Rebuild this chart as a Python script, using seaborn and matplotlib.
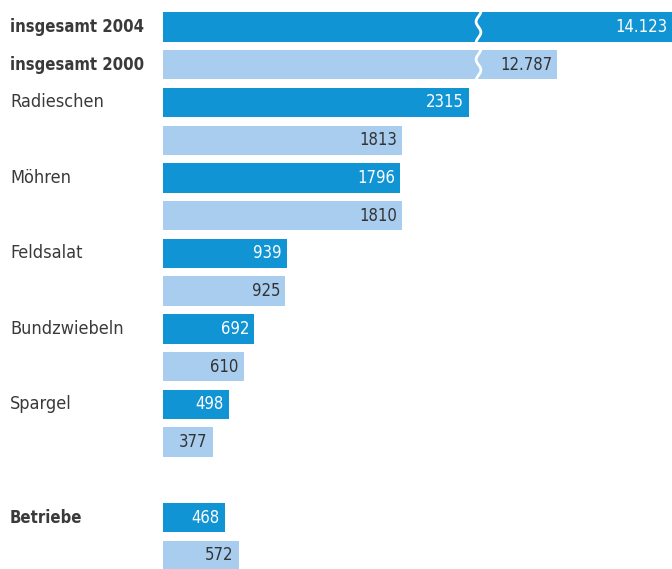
import numpy as np
import pandas as pd
import seaborn as sns
import matplotlib.pyplot as plt

# rows from top to bottom (2004 bar first, then 2000 bar)
labels = ["insgesamt 2004", "insgesamt 2000", "Radieschen", "", "Möhren", "",
          "Feldsalat", "", "Bundzwiebeln", "", "Spargel", "", "Betriebe", ""]
values = [14123, 12787, 2315, 1813, 1796, 1810, 939, 925, 692, 610, 498, 377, 468, 572]
years = ["2004", "2000"] * 7
value_text = ["14.123", "12.787", "2315", "1813", "1796", "1810", "939", "925",
              "692", "610", "498", "377", "468", "572"]
bold_labels = ["insgesamt 2004", "insgesamt 2000", "Betriebe"]

# totals are drawn on a broken axis: this much is cut out of them
cut = 9800
break_at = 2390

pos = list(range(12)) + [13, 14]
shown = [v - cut if v > 10000 else v for v in values]
df = pd.DataFrame({"pos": pos, "shown": shown, "Jahr": years})

dark = "#1094d4"
light = "#a8cdee"

sns.set_theme(style="white")
plt.rcParams["font.family"] = ["DejaVu Sans"]
plt.rcParams["font.stretch"] = "condensed"

fig = plt.figure(figsize=(6.72, 5.69), dpi=100)
ax = fig.add_axes([163 / 672, 0, 1 - 163 / 672, 1])

sns.barplot(data=df, x="shown", y="pos", hue="Jahr", orient="y", native_scale=True,
            palette={"2004": dark, "2000": light}, dodge=False, width=0.78,
            legend=False, ax=ax, saturation=1, linewidth=0)

xmax = (672 - 163) / 0.132
ax.set_xlim(0, xmax)
ax.set_ylim(14.36, -0.715)
ax.axis("off")

# value labels inside bar ends
for p, s, yr, t in zip(pos, shown, years, value_text):
    end = min(s, xmax)
    ax.text(end - 38, p, t, ha="right", va="center", fontsize=12,
            fontstretch="condensed",
            color="white" if yr == "2004" else "#333333")

# category labels on the left
for p, lab in zip(pos, labels):
    if lab:
        isbold = lab in bold_labels
        fig.text(10 / 672, ax.transData.transform((0, p))[1] / fig.bbox.height, lab,
                 ha="left", va="center", fontsize=12 if isbold else 13,
                 color="#3a3a3a", fontstretch="condensed",
                 fontweight="bold" if isbold else "normal")

# wavy break marks on the total bars
for p in pos[:2]:
    yy = np.linspace(p - 0.42, p + 0.42, 40)
    xx = break_at + 18 * np.sin((yy - p) * np.pi / 0.42 * 1.5)
    ax.plot(xx, yy, color="white", lw=2, solid_capstyle="butt")

plt.savefig("out.png", dpi=100)
